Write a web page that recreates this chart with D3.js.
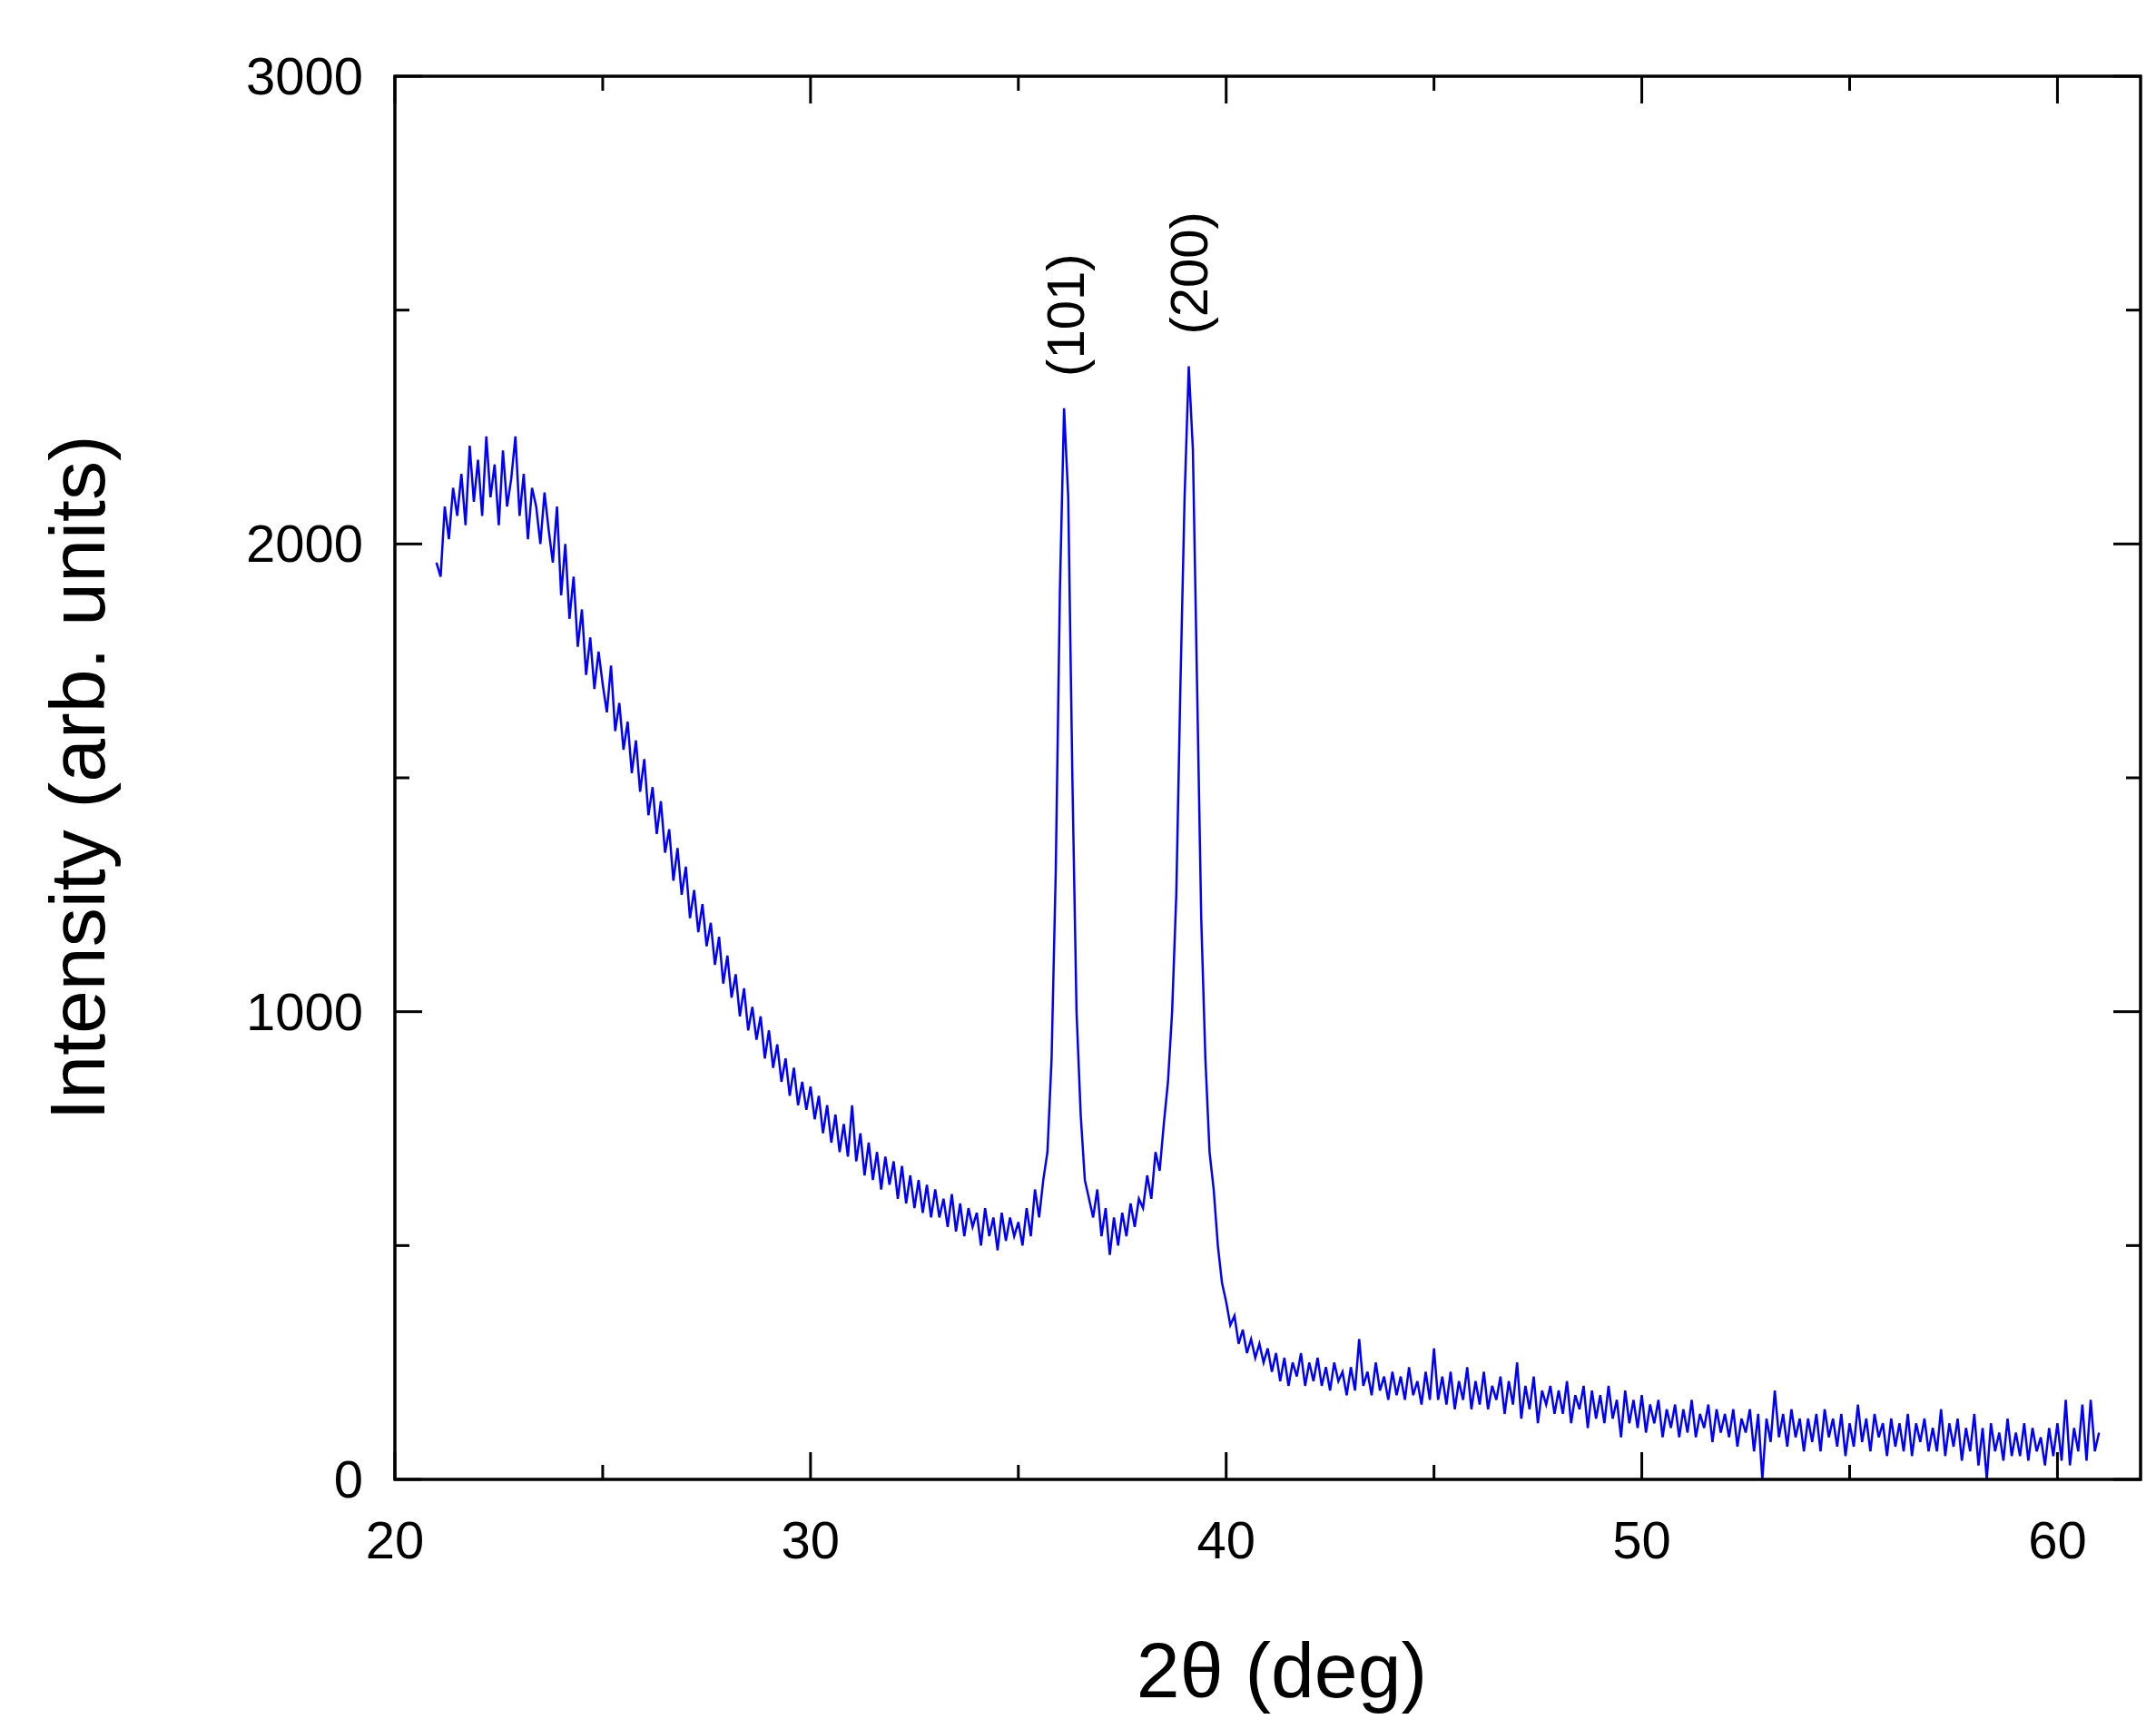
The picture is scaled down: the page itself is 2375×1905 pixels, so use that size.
<!DOCTYPE html>
<html>
<head>
<meta charset="utf-8">
<script src="https://cdn.jsdelivr.net/npm/d3@7"></script>
<style>
  body { margin: 0; background: #fff; }
  text { font-family: Arial, "Liberation Sans", sans-serif; fill: #000; }
</style>
</head>
<body>
<div id="chart"></div>
<script>
let width = 2375, height = 1905;
let margin = {left: 435, right: 17, top: 84, bottom: 275};

// intensity every 0.1 deg from 21.0 to 61.0
let xStart = 21.0, xStep = 0.1;
let intensity = [
  1960,1930,2080,2010,2120,2060,2150,2040,2210,2090,
  2180,2060,2230,2100,2170,2040,2200,2080,2140,2230,
  2060,2150,2010,2120,2080,2000,2110,2030,1960,2080,
  1890,2000,1840,1930,1780,1860,1720,1800,1690,1770,
  1700,1640,1740,1600,1660,1560,1620,1510,1580,1470,
  1540,1420,1480,1380,1450,1340,1390,1280,1350,1250,
  1310,1200,1260,1170,1230,1140,1190,1100,1160,1060,
  1120,1030,1080,990,1050,960,1010,940,990,900,
  960,880,930,850,900,820,880,800,850,790,
  840,770,820,740,800,720,780,700,760,690,
  800,680,740,650,720,640,700,620,690,630,
  680,600,670,590,650,580,640,570,630,560,
  620,560,600,540,610,530,590,520,580,540,
  570,500,580,520,560,490,570,510,560,520,
  550,500,580,520,620,560,640,700,900,1300,
  1900,2290,2100,1500,1000,780,640,600,560,620,
  520,580,480,560,500,570,520,590,540,600,
  580,650,600,700,660,760,850,1000,1250,1700,
  2100,2380,2200,1700,1200,900,700,620,500,420,
  380,330,350,290,320,270,300,260,290,250,
  280,230,270,210,260,200,250,220,270,200,
  250,210,260,200,240,190,250,210,230,180,
  240,190,300,200,230,180,250,190,220,170,
  230,180,220,170,240,180,210,160,230,170,
  280,170,220,160,230,150,210,170,240,150,
  210,160,230,150,200,170,220,140,210,160,
  250,130,200,150,220,120,190,160,200,140,
  190,140,210,120,180,150,200,110,190,130,
  180,120,200,130,170,90,190,120,170,110,
  180,100,160,120,170,90,150,110,160,90,
  150,100,170,90,140,110,160,80,150,100,
  140,90,150,70,130,100,150,60,140,0,
  130,80,190,90,140,70,150,90,130,60,
  130,80,140,60,150,90,130,70,140,50,
  120,70,160,80,130,60,140,90,120,50,
  130,70,120,60,140,50,120,80,130,60,
  110,60,150,50,120,70,130,40,110,60,
  140,30,110,0,120,60,100,40,130,50,
  100,50,120,40,110,60,90,30,110,50,
  120,40,170,30,110,60,160,40,170,60,
  100
];

let xTicks = [20, 30, 40, 50, 60];
let xMinor = [25, 35, 45, 55];
let yTicks = [0, 1000, 2000, 3000];
let yMinor = [500, 1500, 2500];
let peakLabels = [{label: "(101)", x: 36.15, y: 2290}, {label: "(200)", x: 39.1, y: 2380}];

let data = intensity.map((v, i) => ({x: xStart + i * xStep, y: v}));

let svg = d3.select("#chart").append("svg")
    .attr("width", width)
    .attr("height", height);

let x = d3.scaleLinear().domain([20, 62]).range([margin.left, width - margin.right]);
let y = d3.scaleLinear().domain([0, 3000]).range([height - margin.bottom, margin.top]);

let line = d3.line().x(d => x(d.x)).y(d => y(d.y));

svg.append("path")
    .datum(data)
    .attr("d", line)
    .attr("fill", "none")
    .attr("stroke", "#0000ff")
    .attr("stroke-width", 2.5);

// ticks on all four sides, pointing inward
let plotBottom = height - margin.bottom, plotTop = margin.top;
let plotLeft = margin.left, plotRight = width - margin.right;
let major = 30, minor = 16;

function vTicks(vals, len){
    vals.forEach(v => {
        svg.append("line").attr("x1", x(v)).attr("x2", x(v)).attr("y1", plotBottom).attr("y2", plotBottom - len)
            .attr("stroke", "#000").attr("stroke-width", 3);
        svg.append("line").attr("x1", x(v)).attr("x2", x(v)).attr("y1", plotTop).attr("y2", plotTop + len)
            .attr("stroke", "#000").attr("stroke-width", 3);
    });
}
function hTicks(vals, len){
    vals.forEach(v => {
        svg.append("line").attr("x1", plotLeft).attr("x2", plotLeft + len).attr("y1", y(v)).attr("y2", y(v))
            .attr("stroke", "#000").attr("stroke-width", 3);
        svg.append("line").attr("x1", plotRight).attr("x2", plotRight - len).attr("y1", y(v)).attr("y2", y(v))
            .attr("stroke", "#000").attr("stroke-width", 3);
    });
}
vTicks(xTicks, major); vTicks(xMinor, minor);
hTicks(yTicks, major); hTicks(yMinor, minor);

svg.append("rect")
    .attr("x", plotLeft).attr("y", plotTop)
    .attr("width", plotRight - plotLeft).attr("height", plotBottom - plotTop)
    .attr("fill", "none").attr("stroke", "#000").attr("stroke-width", 3.5);

// tick labels
svg.selectAll(".xl").data(xTicks).enter().append("text")
    .attr("x", d => x(d)).attr("y", 1717)
    .attr("text-anchor", "middle").attr("font-size", 58)
    .text(d => d);

svg.selectAll(".yl").data(yTicks).enter().append("text")
    .attr("x", 400).attr("y", d => y(d) + 20)
    .attr("text-anchor", "end").attr("font-size", 58)
    .text(d => d);

// axis titles
svg.append("text")
    .attr("x", 1412).attr("y", 1870)
    .attr("text-anchor", "middle").attr("font-size", 86)
    .text("2θ (deg)");

svg.append("text")
    .attr("transform", "translate(115," + ((plotTop + plotBottom) / 2) + ") rotate(-90)")
    .attr("text-anchor", "middle").attr("font-size", 86)
    .text("Intensity (arb. units)");

// peak labels
svg.selectAll(".pk").data(peakLabels).enter().append("text")
    .attr("transform", d => "translate(" + (x(d.x) + 20) + "," + (y(d.y) - 35) + ") rotate(-90)")
    .attr("font-size", 58)
    .text(d => d.label);
</script>
</body>
</html>
